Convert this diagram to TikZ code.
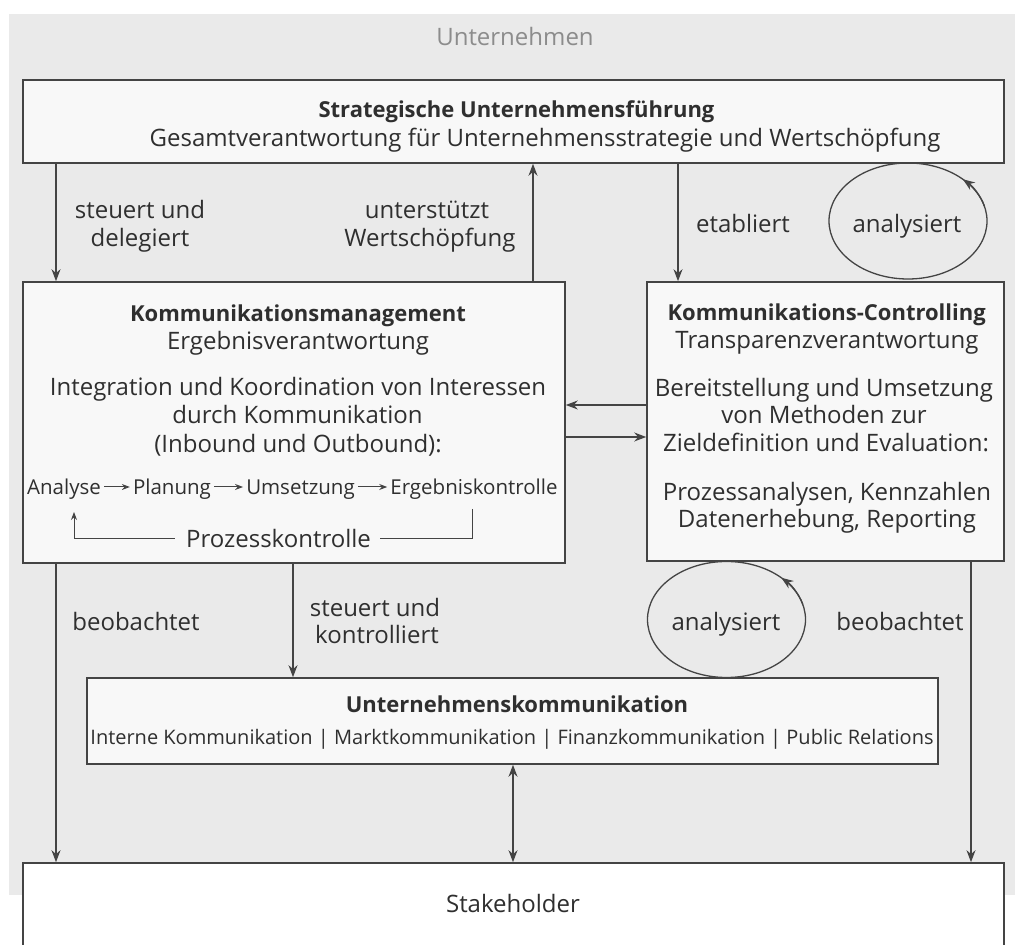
\documentclass[tikz,border=0pt]{standalone}
\usepackage{fontspec}
\setmainfont{Open Sans}
\usetikzlibrary{arrows.meta,calc,shapes.geometric}

\definecolor{paper}{HTML}{EAEAEA}
\definecolor{boxfill}{HTML}{F8F8F8}
\definecolor{ink}{HTML}{2F2F2F}
\definecolor{linec}{HTML}{444444}
\definecolor{faint}{HTML}{8C8C8C}

\newcommand{\bodyf}{\fontsize{24}{29}\selectfont}
\newcommand{\headf}{\fontsize{22}{29}\selectfont\bfseries}
\newcommand{\rowf}{\fontsize{20.5}{24}\selectfont}
\newcommand{\subf}{\fontsize{20}{24}\selectfont}

\begin{document}
\begin{tikzpicture}[x=1pt,y=1pt,
  frame/.style={draw=linec, line width=1.6pt, fill=boxfill, rectangle, inner sep=0pt},
  line/.style={anchor=base, text=ink, font=\bodyf, inner sep=0pt},
  head/.style={anchor=base, text=ink, font=\headf, inner sep=0pt},
  stepword/.style={anchor=base, text=ink, font=\rowf, inner sep=0pt},
  conn/.style={draw=linec, line width=1.3pt, -{Stealth[length=12pt,width=9pt]}},
  biconn/.style={draw=linec, line width=1.3pt, {Stealth[length=12pt,width=9pt]}-{Stealth[length=12pt,width=9pt]}},
  thin/.style={draw=linec, line width=1pt},
  smallarr/.style={draw=linec, line width=1pt, -{Stealth[length=8pt,width=6pt]}},
  loopring/.style={ellipse, draw=linec, line width=1.3pt, minimum width=158pt, minimum height=116pt, inner sep=0pt},
]
\useasboundingbox (0,0) rectangle (1015,945);
\fill[paper] (9,50) rectangle (1015,931);

% heading
\node[line, text=faint] (unt) at (515,899) {Unternehmen};

% strategic management
\node[frame, minimum width=981pt, minimum height=83pt] (top) at (513.5,823.5) {};
\node[head] (topA) at (516.5,827) {Strategische Unternehmensführung};
\node[line] (topB) at (545,798) {Gesamtverantwortung für Unternehmensstrategie und Wertschöpfung};

% communication management
\node[frame, minimum width=542pt, minimum height=281pt] (km) at (294,522.5) {};
\node[head] (kmA) at (298,623) {Kommunikationsmanagement};
\node[line] (kmB) at (298,595) {Ergebnisverantwortung};
\node[line] (kmC) at (298,549) {Integration und Koordination von Interessen};
\node[line] (kmD) at (297.5,521) {durch Kommunikation};
\node[line] (kmE) at (298,492) {(Inbound und Outbound):};
\node[stepword] (p1) at (64,450) {Analyse};
\node[stepword] (p2) at (172,450) {Planung};
\node[stepword] (p3) at (300.5,450) {Umsetzung};
\node[stepword] (p4) at (474,450) {Ergebniskontrolle};
\node[line] (pk) at (278.5,397) {Prozesskontrolle};
\draw[smallarr] ([shift={(3,8)}]p1.base east) -- ([shift={(-3,8)}]p2.base west);
\draw[smallarr] ([shift={(3,8)}]p2.base east) -- ([shift={(-3,8)}]p3.base west);
\draw[smallarr] ([shift={(3,8)}]p3.base east) -- ([shift={(-3,8)}]p4.base west);
\coordinate (fbR) at ([shift={(-2,-14)}]p4.base);
\coordinate (fbL) at ([shift={(10,-17)}]p1.base);
\draw[thin] (fbR) |- ([shift={(9,9)}]pk.base east);
\draw[smallarr] ([shift={(-11,9)}]pk.base west) -| (fbL);

% communication controlling
\node[frame, minimum width=357pt, minimum height=279pt] (kc) at (825.5,523.5) {};
\node[head] (kcA) at (826.7,624) {Kommunikations-Controlling};
\node[line] (kcB) at (827,596) {Transparenzverantwortung};
\node[line] (kcC) at (824,548) {Bereitstellung und Umsetzung};
\node[line] (kcD) at (824,521) {von Methoden zur};
\node[line] (kcE) at (826,493) {Zieldefinition und Evaluation:};
\node[line] (kcF) at (827,444) {Prozessanalysen, Kennzahlen};
\node[line] (kcG) at (827,417) {Datenerhebung, Reporting};

% corporate communication
\node[frame, minimum width=851pt, minimum height=86pt] (uk) at (512.5,224) {};
\node[head] (ukA) at (517,232) {Unternehmenskommunikation};
\node[stepword, font=\subf] (ukB) at (512,200) {Interne Kommunikation | Marktkommunikation | Finanzkommunikation | Public Relations};

% stakeholders
\node[frame, fill=white, minimum width=981pt, minimum height=100pt] (sh) at (513.5,32) {};
\node[line] (shA) at (513,32) {Stakeholder};

% self-analysis loops
\node[loopring] (an1) at (908,724) {};
\node[line] (an1t) at (907,712) {analysiert};
\draw[conn] ($(an1.center)+({79*cos(15)},{58*sin(15)})$) arc[start angle=15, end angle=46, x radius=79, y radius=58];
\node[loopring] (an2) at (726.5,325.5) {};
\node[line] (an2t) at (726,314) {analysiert};
\draw[conn] ($(an2.center)+({79*cos(15)},{58*sin(15)})$) arc[start angle=15, end angle=46, x radius=79, y radius=58];

% vertical connector positions
\coordinate (xa) at (56,0);
\coordinate (xb) at (533,0);
\coordinate (xc) at (678,0);
\coordinate (xd) at (293,0);
\coordinate (xe) at (971,0);
\coordinate (xf) at (513,0);
\coordinate (ya) at (0,540);
\coordinate (yb) at (0,508);

\draw[conn] (xa |- top.south) -- (xa |- km.north);
\draw[conn] (xb |- km.north) -- (xb |- top.south);
\draw[conn] (xc |- top.south) -- (xc |- kc.north);
\draw[conn] (kc.west |- ya) -- (km.east |- ya);
\draw[conn] (km.east |- yb) -- (kc.west |- yb);
\draw[conn] (xa |- km.south) -- (xa |- sh.north);
\draw[conn] (xd |- km.south) -- (xd |- uk.north);
\draw[conn] (xe |- kc.south) -- (xe |- sh.north);
\draw[biconn] (xf |- uk.south) -- (xf |- sh.north);

% connector labels
\node[line] (l1a) at (140,726) {steuert und};
\node[line] (l1b) at (140,698) {delegiert};
\node[line] (l2a) at (427,726) {unterstützt};
\node[line] (l2b) at (430,698) {Wertschöpfung};
\node[line] (l3) at (743,712) {etabliert};
\node[line] (l4) at (136,314) {beobachtet};
\node[line] (l5a) at (375,328) {steuert und};
\node[line] (l5b) at (377,301) {kontrolliert};
\node[line] (l6) at (900,314) {beobachtet};
\end{tikzpicture}
\end{document}
